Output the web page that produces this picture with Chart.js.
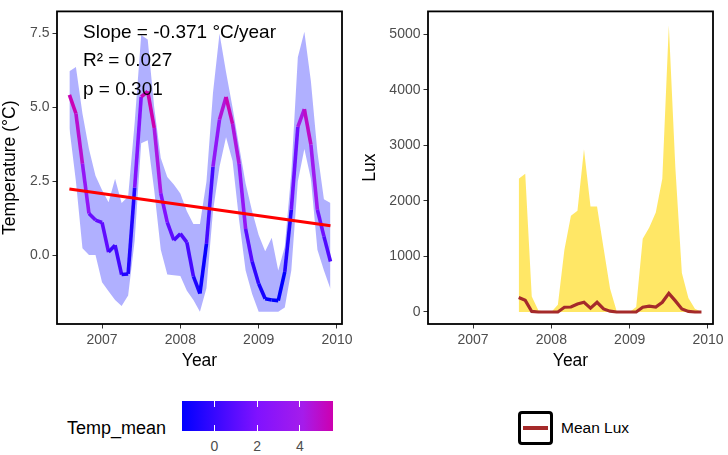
<!DOCTYPE html>
<html>
<head>
<meta charset="utf-8">
<script src="https://cdn.jsdelivr.net/npm/chart.js@4.4.1/dist/chart.umd.min.js"></script>
<style>
  body { margin: 0; background: #fff; width: 728px; height: 455px; position: relative; overflow: hidden;
         font-family: "Liberation Sans", Arial, sans-serif; }
  canvas { position: absolute; top: 0; }
  #tempChart { left: 0; }
  #luxChart { left: 360px; }
  .lbl { position: absolute; white-space: nowrap; color: #000; }
</style>
</head>
<body>
<canvas id="tempChart" width="360" height="380"></canvas>
<canvas id="luxChart" width="368" height="380"></canvas>
<div id="legend"></div>
<script>
// monthly temperature summary (mean + min/max ribbon)
const tempMonths = [
  "2006-08", "2006-09", "2006-10", "2006-11", "2006-12",
  "2007-01", "2007-02", "2007-03", "2007-04", "2007-05", "2007-06", "2007-07", "2007-08", "2007-09", "2007-10", "2007-11", "2007-12",
  "2008-01", "2008-02", "2008-03", "2008-04", "2008-05", "2008-06", "2008-07", "2008-08", "2008-09", "2008-10", "2008-11", "2008-12",
  "2009-01", "2009-02", "2009-03", "2009-04", "2009-05", "2009-06", "2009-07", "2009-08", "2009-09", "2009-10", "2009-11", "2009-12"
];
const tempMean = [5.43, 4.8, 3.1, 1.42, 1.2, 1.12, 0.12, 0.35, -0.64, -0.62, 2.3, 5.36, 5.55, 4.31, 2.1, 1.12, 0.52,
  0.74, 0.45, -0.7, -1.28, 0.4, 3.0, 4.6, 5.36, 4.45, 3.1, 0.9, -0.2, -0.95, -1.46, -1.5, -1.52, -0.55, 1.55,
  4.35, 4.95, 3.75, 1.55, 0.65, -0.2];
const tempLow = [4.3, 2.5, 0.25, 0.02, 0.02, -0.9, -1.2, -1.5, -1.7, -1.35, 0.5, 3.8, 3.9, 2.2, 0.2, -0.64, -0.66,
  -0.69, -1.19, -1.5, -1.9, -1.1, 1.5, 3.0, 4.0, 3.2, 1.2, -0.5, -1.3, -1.9, -1.9, -1.9, -1.9, -1.75, -0.5,
  2.5, 3.6, 2.6, 0.2, -0.5, -1.13];
const tempHigh = [6.23, 6.37, 4.8, 3.6, 2.7, 2.22, 1.8, 2.6, 1.78, 2.0, 4.5, 7.45, 7.3, 5.0, 3.3, 2.66, 2.4,
  2.1, 1.5, 1.07, 1.07, 2.5, 5.5, 7.5, 6.2, 5.0, 3.7, 2.44, 1.5, 0.7, 0.15, 0.6, -0.5, 0.3, 2.8,
  6.7, 7.56, 5.9, 3.5, 1.9, 1.78];

// linear fit endpoints
const trendMonths = ["2006-08", "2009-12"];
const trendValues = [2.25, 1.01];
const statLines = ["Slope = -0.371 °C/year", "R² = 0.027", "p = 0.301"];

// monthly light summary
const luxMonths = [
  "2007-08", "2007-09", "2007-10", "2007-11", "2007-12",
  "2008-01", "2008-02", "2008-03", "2008-04", "2008-05", "2008-06", "2008-07", "2008-08", "2008-09", "2008-10", "2008-11", "2008-12",
  "2009-01", "2009-02", "2009-03", "2009-04", "2009-05", "2009-06", "2009-07", "2009-08", "2009-09", "2009-10", "2009-11", "2009-12"
];
const luxMax = [2400, 2490, 280, 30, 0, 0, 130, 1120, 1730, 1820, 2930, 1900, 1900, 1150, 420, 20, 0,
  0, 90, 1320, 1520, 1790, 2400, 5160, 2600, 700, 250, 60, 0];
const luxMean = [260, 210, 10, 0, 0, 0, 0, 85, 90, 145, 175, 70, 175, 55, 15, 0, 0,
  0, 0, 85, 105, 90, 175, 335, 200, 55, 10, 0, 0];

const yearTicks = [2007, 2008, 2009, 2010];
const tempTicks = [0, 2.5, 5, 7.5];
const luxTicks = [0, 1000, 2000, 3000, 4000, 5000];
const colorbarTicks = [0, 2, 4];

const FONT = "'Liberation Sans', Arial, sans-serif";
const gradStops = [[0, [0, 0, 255]], [0.5, [128, 18, 255]], [0.8, [165, 28, 235]], [1, [205, 0, 175]]];
const tMin = Math.min(...tempMean), tMax = Math.max(...tempMean);

const toYear = m => { const [y, mo] = m.split("-").map(Number); return y + (mo - 1) / 12; };
const pts = (months, vals) => months.map((m, i) => ({ x: toYear(m), y: vals[i] }));

function tempColor(v) {
  const t = Math.max(0, Math.min(1, (v - tMin) / (tMax - tMin)));
  for (let i = 1; i < gradStops.length; i++) {
    const [t0, c0] = gradStops[i - 1], [t1, c1] = gradStops[i];
    if (t <= t1) {
      const f = (t - t0) / (t1 - t0);
      return `rgb(${c0.map((c, k) => Math.round(c + (c1[k] - c) * f)).join(",")})`;
    }
  }
  return `rgb(${gradStops[gradStops.length - 1][1].join(",")})`;
}

function xScale() {
  return {
    type: "linear", min: 2006.425, max: 2010.064,
    afterBuildTicks: s => { s.ticks = yearTicks.map(v => ({ value: v })); },
    afterFit: s => { s.height = 56; },
    grid: { drawOnChartArea: false, drawTicks: true, tickLength: 4.5, tickColor: "#333", lineWidth: 1 },
    border: { display: false },
    ticks: { color: "#4D4D4D", font: { family: FONT, size: 14 }, padding: 3, maxRotation: 0, autoSkip: false,
             callback: v => String(v) },
    title: { display: true, text: "Year", color: "#000", font: { family: FONT, size: 17.5 },
             padding: { top: 0, bottom: 8.5 } }
  };
}

function yScale(min, max, ticks, width, title, fmt) {
  return {
    type: "linear", min, max,
    afterBuildTicks: s => { s.ticks = ticks.map(v => ({ value: v })); },
    afterFit: s => { s.width = width; },
    grid: { drawOnChartArea: false, drawTicks: true, tickLength: 4.5, tickColor: "#333", lineWidth: 1 },
    border: { display: false },
    ticks: { color: "#4D4D4D", font: { family: FONT, size: 14 }, padding: 3, autoSkip: false, callback: fmt },
    title: { display: true, text: title, color: "#000", font: { family: FONT, size: 17.5 },
             padding: { top: 0, bottom: 0 } }
  };
}

// black panel frame
const panelBox = {
  id: "panelBox",
  afterDraw(chart) {
    const { ctx, chartArea: a } = chart;
    ctx.save();
    ctx.strokeStyle = "#000";
    ctx.lineWidth = 1.8;
    ctx.strokeRect(a.left, a.top, a.right - a.left, a.bottom - a.top);
    ctx.restore();
  }
};

// regression stats text
const statsText = {
  id: "statsText",
  afterDatasetsDraw(chart) {
    const { ctx, chartArea: a } = chart;
    ctx.save();
    ctx.fillStyle = "#000";
    ctx.font = `19px ${FONT}`;
    ctx.textBaseline = "middle";
    statLines.forEach((t, i) => ctx.fillText(t, a.left + 26, a.top + 21.5 + i * 28.3));
    ctx.restore();
  }
};

const baseOpts = {
  responsive: false,
  animation: false,
  plugins: { legend: { display: false }, tooltip: { enabled: false } },
  elements: { point: { radius: 0 } }
};

new Chart(document.getElementById("tempChart"), {
  type: "line",
  data: {
    datasets: [
      { data: pts(trendMonths, trendValues), borderColor: "#FF0000", borderWidth: 3.2, pointRadius: 0 },
      { data: pts(tempMonths, tempMean), borderWidth: 3.6, pointRadius: 0,
        borderColor: tempColor(tempMean[0]),
        segment: { borderColor: c => tempColor(c.p0.parsed.y) } },
      { data: pts(tempMonths, tempHigh), borderWidth: 0, borderColor: "rgba(0,0,0,0)", pointRadius: 0,
        fill: "+1", backgroundColor: "rgba(0,0,255,0.31)" },
      { data: pts(tempMonths, tempLow), borderWidth: 0, borderColor: "rgba(0,0,0,0)", pointRadius: 0, fill: false }
    ]
  },
  options: {
    ...baseOpts,
    layout: { padding: { left: 0, right: 18, top: 4, bottom: 0 } },
    scales: {
      x: xScale(),
      y: yScale(-2.31, 8.25, tempTicks, 57, "Temperature (°C)", v => v.toFixed(1))
    }
  },
  plugins: [panelBox, statsText]
});

new Chart(document.getElementById("luxChart"), {
  type: "line",
  data: {
    datasets: [
      { data: pts(luxMonths, luxMean), borderColor: "#A52A2A", borderWidth: 3.2, pointRadius: 0 },
      { data: pts(luxMonths, luxMax), borderWidth: 0, borderColor: "rgba(0,0,0,0)", pointRadius: 0,
        fill: { value: 0 }, backgroundColor: "rgba(255,215,0,0.6)" }
    ]
  },
  options: {
    ...baseOpts,
    layout: { padding: { left: 0, right: 15, top: 4, bottom: 0 } },
    scales: {
      x: xScale(),
      y: yScale(-216, 5410, luxTicks, 68, "Lux", v => String(v))
    }
  },
  plugins: [panelBox]
});

// legends below the panels
const legend = document.getElementById("legend");
function addDiv(style, text) {
  const d = document.createElement("div");
  d.className = "lbl";
  Object.assign(d.style, style);
  if (text !== undefined) d.textContent = text;
  legend.appendChild(d);
  return d;
}

const barLeft = 182, barTop = 401, barW = 151, barH = 30;
addDiv({ left: "67px", top: "417px", fontSize: "18px", lineHeight: "22px" }, "Temp_mean");
addDiv({ left: barLeft + "px", top: barTop + "px", width: barW + "px", height: barH + "px",
  background: `linear-gradient(to right, ${gradStops.map(([t, c]) => `rgb(${c.join(",")}) ${t * 100}%`).join(", ")})` });
colorbarTicks.forEach(v => {
  const x = barLeft + (v - tMin) / (tMax - tMin) * barW;
  addDiv({ left: (x - 0.5) + "px", top: barTop + "px", width: "1px", height: "6px", background: "#fff" });
  addDiv({ left: (x - 0.5) + "px", top: (barTop + barH - 6) + "px", width: "1px", height: "6px", background: "#fff" });
  addDiv({ left: (x - 20) + "px", width: "40px", textAlign: "center", top: "438px", fontSize: "14px",
    lineHeight: "17px", color: "#4D4D4D" }, String(v));
});

addDiv({ left: "518px", top: "411px", width: "35px", height: "34px", border: "3px solid #000",
  borderRadius: "4px", boxSizing: "border-box" });
addDiv({ left: "523px", top: "426px", width: "25px", height: "4px", background: "#A52A2A" });
addDiv({ left: "561px", top: "418px", fontSize: "15.5px", lineHeight: "20px" }, "Mean Lux");
</script>
</body>
</html>
